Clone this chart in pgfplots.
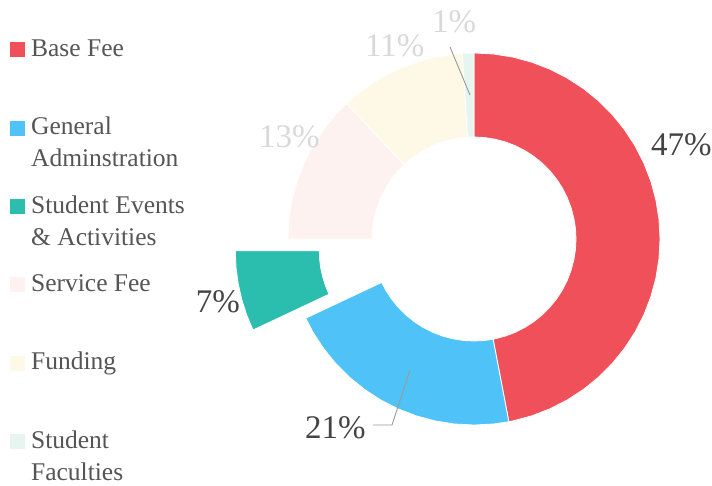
\documentclass[border=0pt]{standalone}
\usepackage{fontspec}
\setmainfont{Liberation Serif}
\usepackage{pgfplots}
\pgfplotsset{compat=1.18}
\usepgfplotslibrary{polar}
\definecolor{cBase}{HTML}{F0505A}
\definecolor{cAdmin}{HTML}{4FC3F7}
\definecolor{cEvents}{HTML}{2BBEAE}
\definecolor{cService}{HTML}{FDF2EF}
\definecolor{cFunding}{HTML}{FEF9E7}
\definecolor{cFaculty}{HTML}{E6F5F0}
\definecolor{txtdark}{HTML}{444444}
\definecolor{txtlight}{HTML}{D9D9D9}
\definecolor{legtxt}{HTML}{555555}
\newcommand\legtext[1]{\parbox[t]{180pt}{\fontsize{25.5}{32}\selectfont #1}}
\begin{document}
\begin{tikzpicture}
\path[use as bounding box] (0,0) rectangle (712pt,485pt);
\begin{polaraxis}[
  at={(474pt,246pt)}, anchor=origin,
  scale only axis, width=372pt, height=372pt,
  ymin=0, ymax=186, hide axis, clip=false,
  every axis plot/.append style={draw=white, line width=0.8pt},
  legend image code/.code={\fill[#1, draw=none] (0pt,21.2pt) rectangle (15pt,36.2pt);},
  legend style={at={(axis description cs:-0.7473,1.0374)}, anchor=north west,
    draw=none, fill=none, inner sep=0pt, row sep=0pt, column sep=6pt,
    nodes={inner sep=0pt, text=legtxt, text height=17pt, text depth=61.4pt}},
  legend cell align=left,
]
% shares (%): 47, 21, 7, 13, 11, 1 -> clockwise from top, outer r 186, inner r 102
% Base Fee 47%
\addplot[fill=cBase, forget plot] coordinates {
 (90,186) (84,186) (78,186) (72,186) (66,186) (60,186) (54,186) (48,186) (42,186) (36,186)
 (30,186) (24,186) (18,186) (12,186) (6,186) (0,186) (-6,186) (-12,186) (-18,186) (-24,186)
 (-30,186) (-36,186) (-42,186) (-48,186) (-54,186) (-60,186) (-66,186) (-72,186) (-78,186) (-79.2,186)
 (-79.2,102) (-78,102) (-72,102) (-66,102) (-60,102) (-54,102) (-48,102) (-42,102) (-36,102)
 (-30,102) (-24,102) (-18,102) (-12,102) (-6,102) (0,102) (6,102) (12,102) (18,102) (24,102)
 (30,102) (36,102) (42,102) (48,102) (54,102) (60,102) (66,102) (72,102) (78,102) (84,102) (90,102) (90,186)};
% General Adminstration 21%
\addplot[fill=cAdmin, forget plot] coordinates {
 (-79.2,186) (-84,186) (-90,186) (-96,186) (-102,186) (-108,186) (-114,186) (-120,186)
 (-126,186) (-132,186) (-138,186) (-144,186) (-150,186) (-154.8,186)
 (-154.8,102) (-150,102) (-144,102) (-138,102) (-132,102) (-126,102) (-120,102) (-114,102)
 (-108,102) (-102,102) (-96,102) (-90,102) (-84,102) (-79.2,102) (-79.2,186)};
% Student Events & Activities 7% (pulled out)
\addplot[fill=cEvents, forget plot, xshift=-52.7pt, yshift=-11.8pt] coordinates {
 (-154.8,186) (-160,186) (-165,186) (-170,186) (-175,186) (-180,186)
 (-180,102) (-175,102) (-170,102) (-165,102) (-160,102) (-154.8,102) (-154.8,186)};
% Service Fee 13%
\addplot[fill=cService, forget plot] coordinates {
 (180,186) (174,186) (168,186) (162,186) (156,186) (150,186) (144,186) (138,186) (133.2,186)
 (133.2,102) (138,102) (144,102) (150,102) (156,102) (162,102) (168,102) (174,102) (180,102) (180,186)};
% Funding 11%
\addplot[fill=cFunding, forget plot] coordinates {
 (133.2,186) (127,186) (121,186) (115,186) (109,186) (103,186) (97,186) (93.6,186)
 (93.6,102) (97,102) (103,102) (109,102) (115,102) (121,102) (127,102) (133.2,102) (133.2,186)};
% Student Faculties 1%
\addplot[fill=cFaculty, forget plot] coordinates {
 (93.6,186) (91.8,186) (90,186) (90,102) (91.8,102) (93.6,102) (93.6,186)};

\addlegendimage{fill=cBase}    \addlegendentry{\legtext{Base Fee}}
\addlegendimage{fill=cAdmin}   \addlegendentry{\legtext{General\\Adminstration}}
\addlegendimage{fill=cEvents}  \addlegendentry{\legtext{Student Events\\\& Activities}}
\addlegendimage{fill=cService} \addlegendentry{\legtext{Service Fee}}
\addlegendimage{fill=cFunding} \addlegendentry{\legtext{Funding}}
\addlegendimage{fill=cFaculty} \addlegendentry{\legtext{Student\\Faculties}}
\end{polaraxis}

% value labels and leader lines
\begin{scope}[every node/.style={font=\fontsize{33}{33}\selectfont, inner sep=0pt}]
\node[anchor=base west, text=txtdark] at (651pt,329pt) {47\%};
\node[anchor=base west, text=txtdark] at (305pt,47pt) {21\%};
\node[anchor=base east, text=txtdark] at (240pt,172pt) {7\%};
\node[anchor=base west, text=txtlight] at (259pt,337pt) {13\%};
\node[anchor=base west, text=txtlight] at (365pt,428pt) {11\%};
\node[anchor=base west, text=txtlight] at (432pt,452pt) {1\%};
\end{scope}
\draw[black!40, line width=0.9pt] (450pt,438pt) -- (470pt,390pt);
\draw[black!40, line width=0.9pt] (410pt,115pt) -- (392pt,60pt) -- (373pt,60pt);
\end{tikzpicture}
\end{document}
